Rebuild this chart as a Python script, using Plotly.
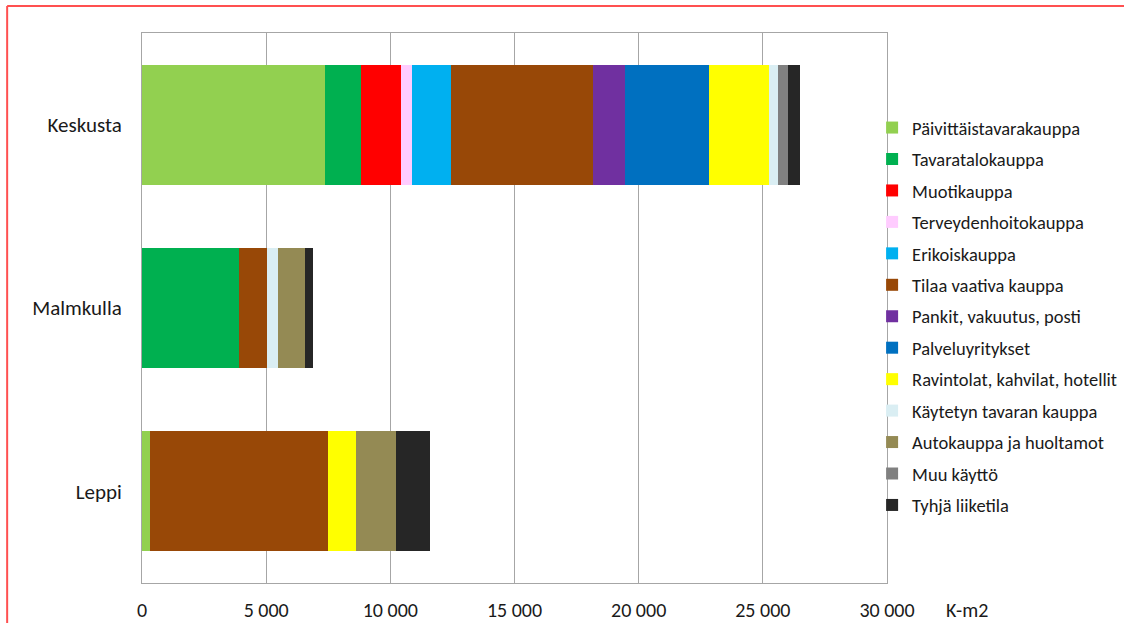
import plotly.graph_objects as go

categories = ["Keskusta", "Malmkulla", "Leppi"]

series_names = [
    "Päivittäistavarakauppa",
    "Tavaratalokauppa",
    "Muotikauppa",
    "Terveydenhoitokauppa",
    "Erikoiskauppa",
    "Tilaa vaativa kauppa",
    "Pankit, vakuutus, posti",
    "Palveluyritykset",
    "Ravintolat, kahvilat, hotellit",
    "Käytetyn tavaran kauppa",
    "Autokauppa ja huoltamot",
    "Muu käyttö",
    "Tyhjä liiketila",
]

# values per series: [Keskusta, Malmkulla, Leppi]
paivittaistavara = [7350, 0, 330]
tavaratalo = [1480, 3900, 0]
muoti = [1590, 0, 0]
terveydenhoito = [440, 0, 0]
erikois = [1600, 0, 0]
tilaa_vaativa = [5700, 1150, 7140]
pankit = [1290, 0, 0]
palvelu = [3400, 0, 0]
ravintolat = [2400, 0, 1130]
kaytetty = [370, 430, 0]
autokauppa = [0, 1080, 1610]
muu = [380, 0, 0]
tyhja = [480, 320, 1400]

series_values = [
    paivittaistavara, tavaratalo, muoti, terveydenhoito, erikois, tilaa_vaativa,
    pankit, palvelu, ravintolat, kaytetty, autokauppa, muu, tyhja,
]

colors = [
    "#92d050", "#00b050", "#ff0000", "#ffccff", "#00b0f0", "#984807",
    "#7030a0", "#0070c0", "#ffff00", "#daeef3", "#948a54", "#808080", "#262626",
]

x_ticks = [0, 5000, 10000, 15000, 20000, 25000, 30000]
x_unit = "K-m2"

FONT = "Carlito, Lato, 'Open Sans', sans-serif"

fig = go.Figure()
for i, (name, vals, col) in enumerate(zip(series_names, series_values, colors)):
    fig.add_trace(go.Bar(
        y=categories, x=vals, name=name, orientation="h",
        marker=dict(color=col, line=dict(width=0)),
        legendgroup=f"g{i:02d}",
    ))

fig.update_layout(
    barmode="stack",
    bargap=0.345,
    width=1124, height=623,
    margin=dict(l=142, r=237, t=33, b=40, autoexpand=False),
    plot_bgcolor="white", paper_bgcolor="white",
    separators=", ",
    font=dict(family=FONT, size=20, color="#1a1a1a"),
    showlegend=True,
    legend=dict(
        x=0.98, xanchor="left", xref="paper",
        y=0.4845, yanchor="middle",
        font=dict(size=18.5, family=FONT, color="#1a1a1a"),
        traceorder="grouped",
        tracegroupgap=4.4,
        itemwidth=30,
        bgcolor="rgba(0,0,0,0)",
    ),
    xaxis=dict(
        range=[0, 30000], tickvals=x_ticks, tickformat=",d",
        showgrid=True, gridcolor="#a6a6a6", gridwidth=1,
        zeroline=False, showline=True, linecolor="#a6a6a6", linewidth=1,
        mirror=True, ticks="", ticklabelstandoff=9, automargin=False,
        tickfont=dict(size=20),
    ),
    yaxis=dict(
        categoryorder="array", categoryarray=categories, autorange="reversed",
        showgrid=False, showline=True, linecolor="#a6a6a6", linewidth=1,
        mirror=True, ticks="", ticklabelstandoff=15, automargin=False,
        tickfont=dict(size=21),
    ),
    annotations=[dict(
        text=x_unit, xref="paper", yref="paper", x=1.0, y=0,
        xanchor="left", yanchor="top", xshift=57, yshift=-13,
        showarrow=False, font=dict(size=20, family=FONT, color="#1a1a1a"),
    )],
    shapes=[
        dict(type="line", xref="paper", yref="paper",
             x0=-0.181, x1=1.4, y0=1.049, y1=1.049,
             line=dict(color="#ff5050", width=2)),
        dict(type="line", xref="paper", yref="paper",
             x0=-0.181, x1=-0.181, y0=1.049, y1=-0.2,
             line=dict(color="#ff5050", width=2)),
    ],
)

fig.write_html("out.html")
